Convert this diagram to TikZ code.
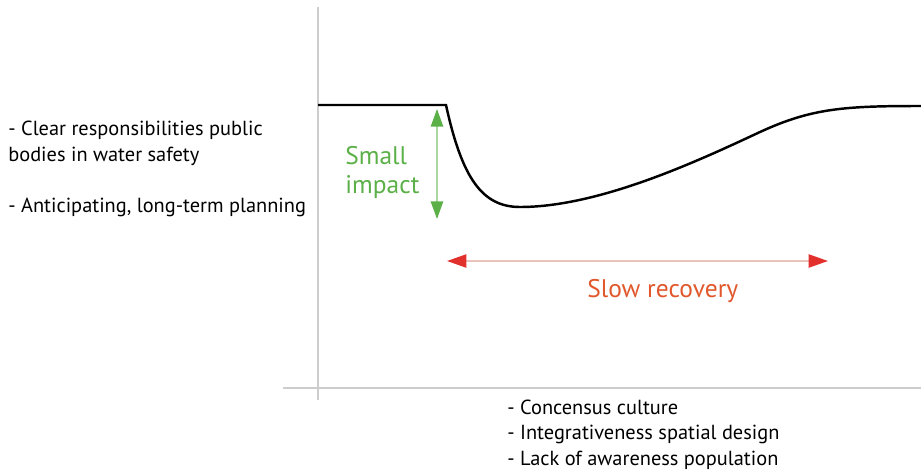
\documentclass[tikz,border=0pt]{standalone}
\usepackage{fontspec}
\setmainfont{PT Sans}
\usetikzlibrary{arrows.meta, positioning, calc}
\definecolor{impactgreen}{RGB}{92,176,72}
\definecolor{impactline}{RGB}{170,214,160}
\definecolor{recovred}{RGB}{226,48,44}
\definecolor{recovline}{RGB}{232,196,188}
\definecolor{recovtext}{RGB}{224,88,44}
\definecolor{axisgray}{RGB}{205,205,205}

\begin{document}
\begin{tikzpicture}[
    x=0.02cm, y=-0.02cm,
    font=\fontsize{11.6}{14.3}\selectfont,
    axis/.style={draw=axisgray, line width=0.7pt},
    curve/.style={draw=black, line width=1.4pt},
    note/.style={inner sep=0pt, align=left, anchor=base west},
    label/.style={note, font=\fontsize{14.5}{16.5}\selectfont},
    impact/.style={draw=impactline, line width=0.9pt, {Triangle[length=10pt, width=7pt, color=impactgreen]}-{Triangle[length=10pt, width=7pt, color=impactgreen]}},
    recov/.style={draw=recovline, line width=0.9pt, {Triangle[length=11pt, width=7.5pt, color=recovred]}-{Triangle[length=11pt, width=7.5pt, color=recovred]}}
  ]
    \useasboundingbox (0,0) rectangle (921,471);
    % axes
    \coordinate (ytop) at (318,7);
    \coordinate (ybot) at (318,400);
    \coordinate (xleft) at (283,388);
    \coordinate (xright) at (921,388);
    \draw[axis] (ytop) -- (ybot);
    \draw[axis] (xleft) -- (xright);
    % performance curve
    \coordinate (c0) at (318,105);
    \coordinate (shock) at (446,105);
    \coordinate (low) at (520,207);
    \coordinate (mid) at (760,132);
    \coordinate (c1) at (921,106);
    \draw[curve] (c0) -- (shock)
      .. controls (462,178) and (482,207) .. (low)
      .. controls (600,207) and (700,160) .. (mid)
      .. controls (812,108) and (845,106) .. (c1);
    % impact and recovery
    \coordinate (imptop) at (437,109);
    \coordinate (impbot) at (437,219);
    \draw[impact] (imptop) -- (impbot);
    \coordinate (recl) at (447,261);
    \coordinate (recr) at (828,261);
    \draw[recov] (recl) -- (recr);
    % (base = last line)
    \node[label, text=impactgreen] (small) at (345,193) {Small\\impact};
    \node[label, text=recovtext] (slow) at (587,297) {Slow recovery};
    % factors
    \node[note] (pos1) at (8,161) {- Clear responsibilities public\\bodies in water safety};
    \node[note] (pos2) at (8,212) {- Anticipating, long-term planning};
    \node[note] (neg) at (507,465) {- Concensus culture\\- Integrativeness spatial design\\- Lack of awareness population};
  \end{tikzpicture}
\end{document}
